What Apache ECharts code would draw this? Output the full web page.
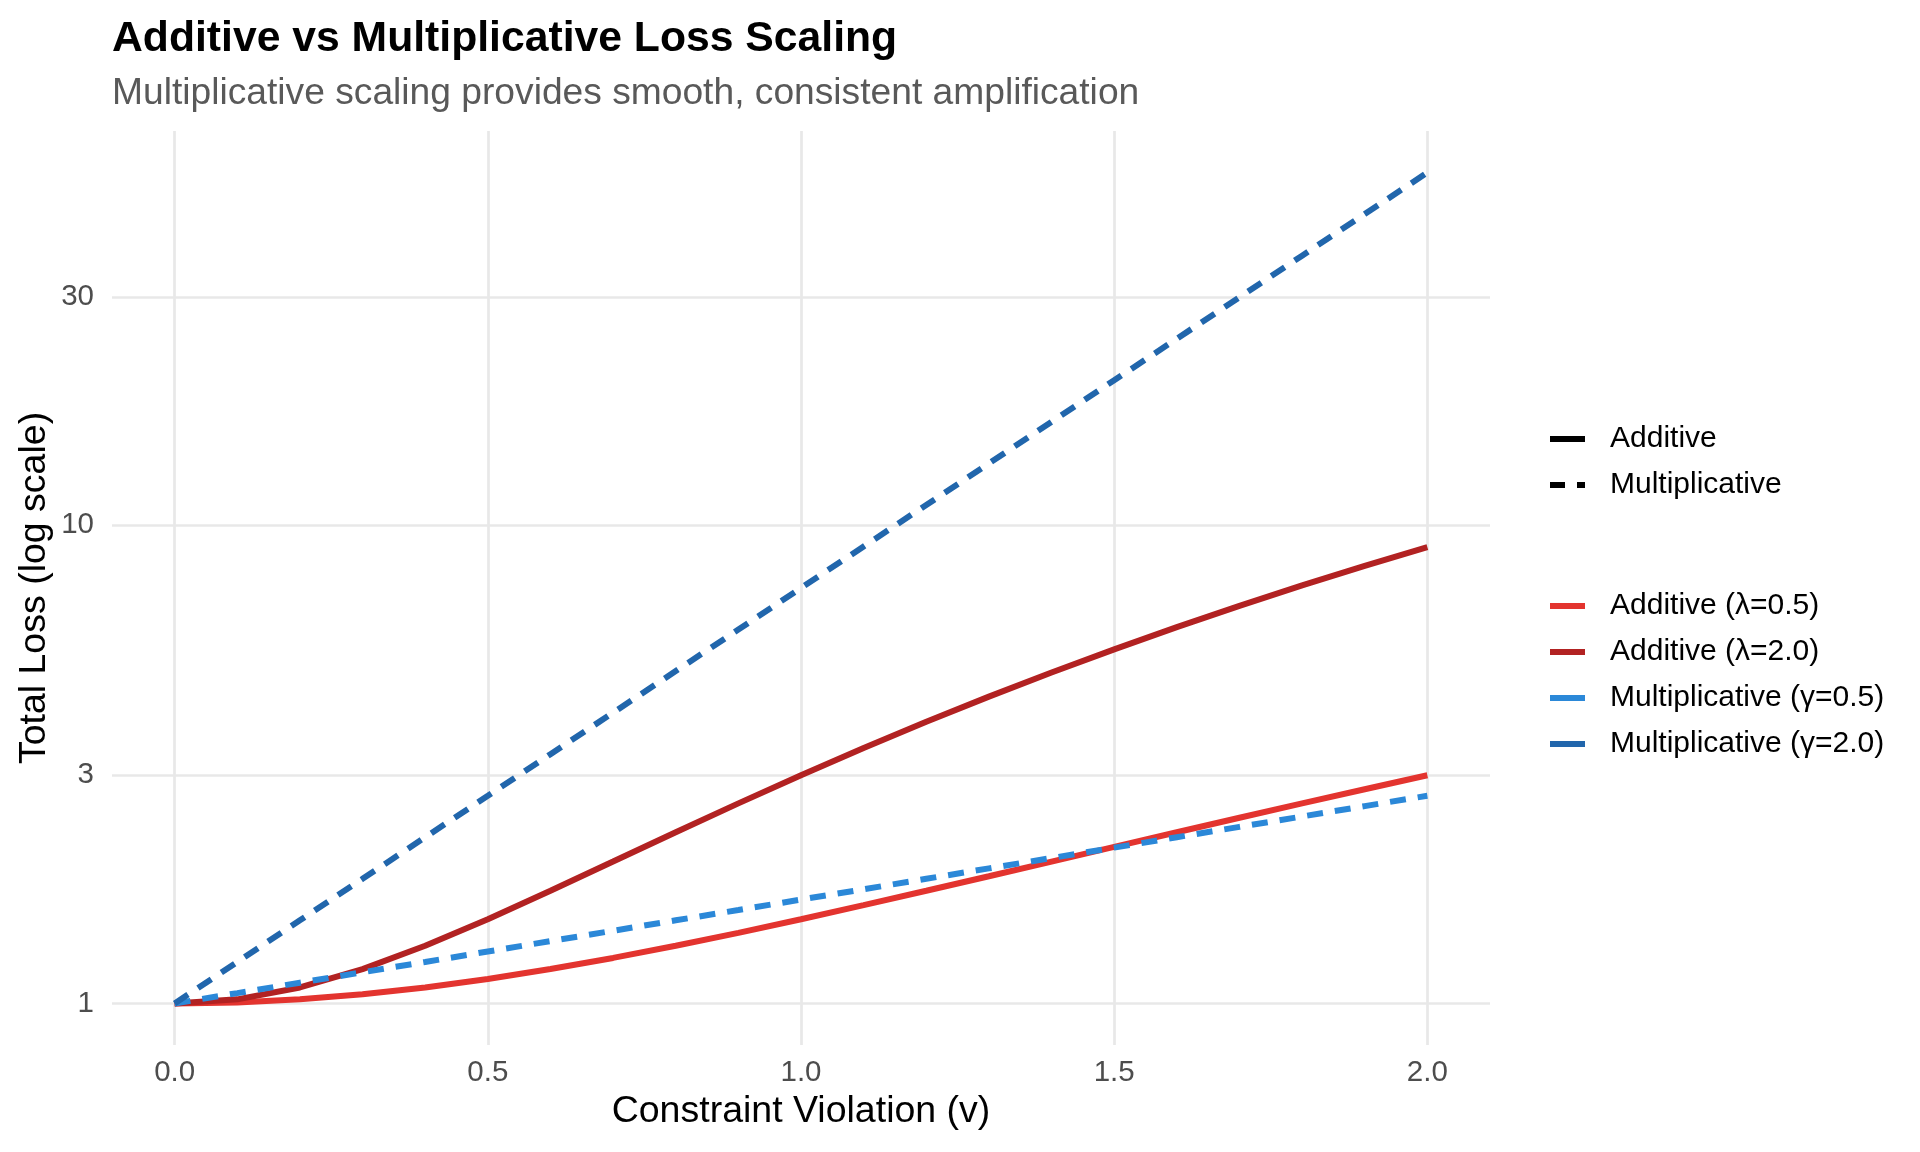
<!DOCTYPE html>
<html>
<head>
<meta charset="utf-8">
<script src="https://cdn.jsdelivr.net/npm/echarts@6/dist/echarts.min.js"></script>
<style>
html,body{margin:0;padding:0;background:#fff;}
#chart{width:1920px;height:1152px;}
</style>
</head>
<body>
<div id="chart"></div>
<script>
// ---- data ----
const violation = [0.0,0.1,0.2,0.3,0.4,0.5,0.6,0.7,0.8,0.9,1.0,1.1,1.2,1.3,1.4,1.5,1.6,1.7,1.8,1.9,2.0];
const additiveLam05 = [1,1.005,1.02,1.045,1.08,1.125,1.18,1.245,1.32,1.405,1.5,1.605,1.72,1.845,1.98,2.125,2.28,2.445,2.62,2.805,3.0];
const additiveLam20 = [1,1.02,1.08,1.18,1.32,1.5,1.72,1.98,2.28,2.62,3.0,3.42,3.88,4.38,4.92,5.5,6.12,6.78,7.48,8.22,9.0];
const multGam05 = [1,1.051,1.105,1.162,1.221,1.284,1.350,1.419,1.492,1.568,1.649,1.733,1.822,1.916,2.014,2.117,2.226,2.340,2.460,2.586,2.718];
const multGam20 = [1,1.221,1.492,1.822,2.226,2.718,3.320,4.055,4.953,6.050,7.389,9.025,11.02,13.46,16.44,20.09,24.53,29.96,36.60,44.70,54.60];
const xTicks = [0,0.5,1,1.5,2];
const yTicks = [1,3,10,30];
const seriesNames = ['Additive (λ=0.5)','Additive (λ=2.0)','Multiplicative (γ=0.5)','Multiplicative (γ=2.0)'];
const typeNames = ['Additive','Multiplicative'];

const colors = ['#E3342F','#B22222','#2B88D8','#2166AC'];
const DASH = [16,12];
const FONT = '"Liberation Sans", Arial, Helvetica, sans-serif';
const pair = arr => violation.map((v,i)=>[v,arr[i]]);

const solidIcon = 'path://M0,0h35v6h-35z';
const dashIcon = 'path://M0,0h15v6h-15z M27,0h8v6h-8z';

const lineSeries = [
  {name: seriesNames[0], data: pair(additiveLam05), color: colors[0], dash: 'solid'},
  {name: seriesNames[1], data: pair(additiveLam20), color: colors[1], dash: 'solid'},
  {name: seriesNames[2], data: pair(multGam05), color: colors[2], dash: DASH},
  {name: seriesNames[3], data: pair(multGam20), color: colors[3], dash: DASH}
].map(s => ({
  type: 'line', name: s.name, data: s.data, showSymbol: false, symbol: 'none',
  z: 5, color: s.color,
  lineStyle: {color: s.color, width: 6, type: s.dash, cap: 'butt'},
  emphasis: {disabled: true}
}));

const gridSeries = {
  type: 'line', name: '_grid', data: [[0,1]], symbol: 'none', z: 1,
  lineStyle: {opacity: 0}, silent: true,
  markLine: {
    silent: true, symbol: 'none', animation: false,
    lineStyle: {color: '#e8e8e8', width: 2.7, type: 'solid'},
    label: {
      show: true, position: 'start', distance: 18,
      color: '#4d4d4d', fontSize: 29.5, fontFamily: FONT,
      formatter: p => String(p.value)
    },
    data: yTicks.map(v => ({yAxis: v}))
  }
};

const typeSeries = typeNames.map(n => ({type: 'line', name: n, data: [], color: '#000'}));

const legendText = {fontFamily: FONT, fontSize: 30, color: '#000', lineHeight: 32, padding: [0,0,0,20]};

const option = {
  animation: false,
  backgroundColor: '#fff',
  title: [
    {text: 'Additive vs Multiplicative Loss Scaling', left: 112, top: 18, padding: 0,
     textStyle: {fontFamily: FONT, fontSize: 42.7, fontWeight: 'bold', color: '#000'}},
    {text: 'Multiplicative scaling provides smooth, consistent amplification', left: 112, top: 75, padding: 0,
     textStyle: {fontFamily: FONT, fontSize: 37.2, fontWeight: 'normal', color: '#595959'}}
  ],
  grid: {left: 112, right: 430, top: 131, bottom: 107, containLabel: false},
  legend: [
    {orient: 'vertical', left: 1550, top: 423, itemWidth: 35, itemHeight: 6, itemGap: 14,
     padding: 0, selectedMode: false, textStyle: legendText,
     data: [{name: typeNames[0], icon: solidIcon}, {name: typeNames[1], icon: dashIcon}]},
    {orient: 'vertical', left: 1550, top: 590, itemWidth: 35, itemHeight: 6, itemGap: 14,
     padding: 0, selectedMode: false, textStyle: legendText,
     data: seriesNames.map(n => ({name: n, icon: solidIcon}))}
  ],
  xAxis: {
    type: 'value', min: -0.1, max: 2.1,
    name: 'Constraint Violation (v)', nameLocation: 'middle', nameGap: 48,
    nameTextStyle: {fontFamily: FONT, fontSize: 37.5, color: '#000'},
    axisLine: {show: false},
    axisTick: {show: false, customValues: xTicks},
    axisLabel: {customValues: xTicks, margin: 13, fontFamily: FONT, fontSize: 29.5, color: '#4d4d4d',
      formatter: v => v.toFixed(1)},
    splitLine: {show: true, lineStyle: {color: '#e8e8e8', width: 2.7}}
  },
  yAxis: {
    type: 'log', logBase: 10, min: 0.8187, max: 66.69,
    name: 'Total Loss (log scale)', nameLocation: 'middle', nameGap: 58,
    nameTextStyle: {fontFamily: FONT, fontSize: 37.5, color: '#000'},
    axisLine: {show: false}, axisTick: {show: false},
    axisLabel: {show: false}, splitLine: {show: false}
  },
  series: [gridSeries].concat(typeSeries, lineSeries)
};

const chart = echarts.init(document.getElementById('chart'), null, {renderer: 'canvas'});
chart.setOption(option);
</script>
</body>
</html>
